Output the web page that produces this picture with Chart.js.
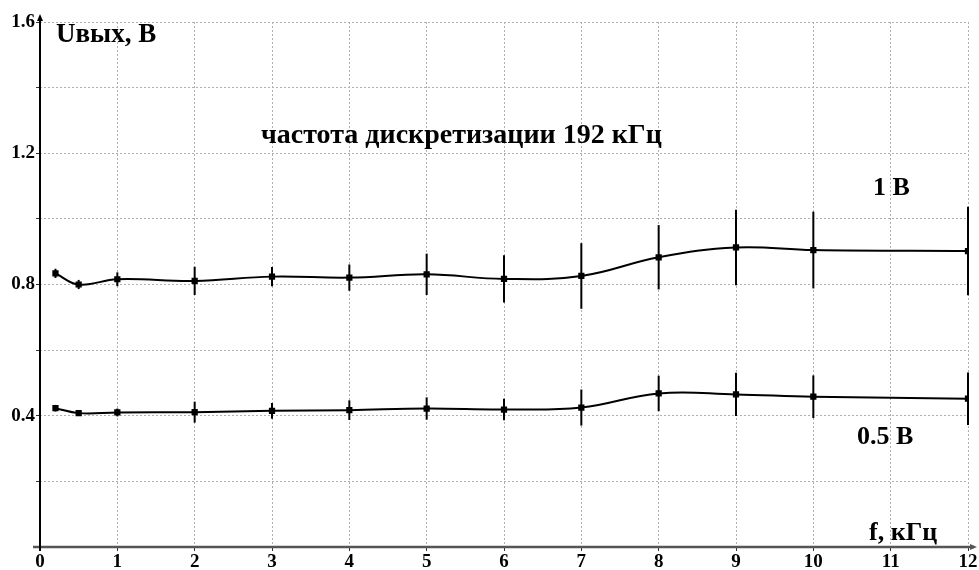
<!DOCTYPE html>
<html>
<head>
<meta charset="utf-8">
<script src="https://cdn.jsdelivr.net/npm/chart.js@4"></script>
<style>
  body { margin: 0; background: #fff; }
  canvas { display: block; }
</style>
</head>
<body>
<canvas id="chart" width="979" height="570"></canvas>
<script>
// Frequencies, kHz (no measurement at 11 kHz)
const freq = [0.2, 0.5, 1, 2, 3, 4, 5, 6, 7, 8, 9, 10, 12];

// Output voltage for 1 V input, and its error
const u1V = [0.834, 0.800, 0.816, 0.811, 0.824, 0.821, 0.831, 0.817, 0.826, 0.883, 0.913, 0.905, 0.902];
const err1V = [0.014, 0.014, 0.021, 0.043, 0.029, 0.040, 0.063, 0.072, 0.100, 0.098, 0.115, 0.117, 0.135];

// Output voltage for 0.5 V input, and its error
const u05V = [0.423, 0.408, 0.410, 0.411, 0.415, 0.417, 0.422, 0.419, 0.425, 0.468, 0.465, 0.458, 0.452];
const err05V = [0.010, 0.008, 0.012, 0.032, 0.024, 0.030, 0.034, 0.033, 0.055, 0.054, 0.066, 0.065, 0.080];

const yLabelTicks = [0.4, 0.8, 1.2, 1.6];

const FONT = '"Liberation Serif", "Times New Roman", serif';

function toPoints(ys) {
    return freq.map((f, i) => ({ x: f, y: ys[i] }));
}

// Vertical error bars drawn on the chart's own scales
const errorBars = {
    id: 'errorBars',
    afterDatasetsDraw(chart) {
        const ctx = chart.ctx;
        const xs = chart.scales.x;
        const ys = chart.scales.y;
        const errs = [err1V, err05V];
        ctx.save();
        ctx.strokeStyle = '#000';
        ctx.lineWidth = 2;
        chart.data.datasets.forEach((ds, d) => {
            ds.data.forEach((p, i) => {
                const px = xs.getPixelForValue(p.x);
                ctx.beginPath();
                ctx.moveTo(px, ys.getPixelForValue(p.y + errs[d][i]));
                ctx.lineTo(px, ys.getPixelForValue(p.y - errs[d][i]));
                ctx.stroke();
            });
        });
        ctx.restore();
    }
};

// Axis lines with arrows, and the captions
const axesAndText = {
    id: 'axesAndText',
    afterDraw(chart) {
        const ctx = chart.ctx;
        const xs = chart.scales.x;
        const ys = chart.scales.y;
        const x0 = xs.getPixelForValue(0);
        const y0 = ys.getPixelForValue(0);
        const top = ys.getPixelForValue(1.6);
        const right = xs.getPixelForValue(12);
        ctx.save();

        // x axis
        ctx.strokeStyle = '#555';
        ctx.fillStyle = '#555';
        ctx.lineWidth = 2.5;
        ctx.beginPath();
        ctx.moveTo(x0 - 7, y0);
        ctx.lineTo(right + 6, y0);
        ctx.stroke();
        ctx.beginPath();
        ctx.moveTo(right + 9, y0);
        ctx.lineTo(right + 2, y0 - 3);
        ctx.lineTo(right + 2, y0 + 3);
        ctx.closePath();
        ctx.fill();

        // y axis
        ctx.strokeStyle = '#000';
        ctx.fillStyle = '#000';
        ctx.lineWidth = 2;
        ctx.beginPath();
        ctx.moveTo(x0, y0 + 4);
        ctx.lineTo(x0, top - 5);
        ctx.stroke();
        ctx.beginPath();
        ctx.moveTo(x0, top - 8);
        ctx.lineTo(x0 - 3, top - 1);
        ctx.lineTo(x0 + 3, top - 1);
        ctx.closePath();
        ctx.fill();

        // captions
        ctx.fillStyle = '#000';
        ctx.textBaseline = 'middle';
        ctx.textAlign = 'left';
        ctx.font = 'bold 27px ' + FONT;
        ctx.fillText('Uвых, В', 56, 35);
        ctx.font = 'bold 28px ' + FONT;
        ctx.fillText('частота дискретизации 192 кГц', 261, 136);
        ctx.font = 'bold 26px ' + FONT;
        ctx.fillText('1 В', 873, 188);
        ctx.fillText('0.5 В', 857, 437);
        ctx.fillText('f, кГц', 869, 533);
        ctx.restore();
    }
};

const ctx = document.getElementById('chart').getContext('2d');

new Chart(ctx, {
    type: 'line',
    data: {
        datasets: [
            {
                label: '1 В',
                data: toPoints(u1V),
                borderColor: '#000',
                backgroundColor: '#000',
                borderWidth: 2,
                tension: 0.4,
                pointStyle: 'rect',
                pointRadius: 3,
                fill: false
            },
            {
                label: '0.5 В',
                data: toPoints(u05V),
                borderColor: '#000',
                backgroundColor: '#000',
                borderWidth: 2,
                tension: 0.4,
                pointStyle: 'rect',
                pointRadius: 3,
                fill: false
            }
        ]
    },
    options: {
        responsive: false,
        animation: false,
        layout: {
            padding: { top: 22, right: 11, left: 0, bottom: 0 }
        },
        scales: {
            x: {
                type: 'linear',
                min: 0,
                max: 12,
                afterFit: s => { s.height = 23; },
                ticks: {
                    stepSize: 1,
                    color: '#000',
                    padding: 0,
                    maxRotation: 0,
                    font: { family: FONT, size: 19, weight: 'bold' },
                    callback: v => String(v)
                },
                grid: {
                    color: '#b0b0b0',
                    lineWidth: 1,
                    tickLength: 4,
                    tickColor: '#333',
                    tickBorderDash: []
                },
                border: { display: false, dash: [2, 2] }
            },
            y: {
                min: 0,
                max: 1.6,
                afterFit: s => { s.width = 40; },
                ticks: {
                    stepSize: 0.2,
                    color: '#000',
                    padding: 1,
                    font: { family: FONT, size: 19, weight: 'bold' },
                    callback: v => yLabelTicks.some(t => Math.abs(t - v) < 1e-6) ? v.toFixed(1) : ''
                },
                grid: {
                    color: '#b0b0b0',
                    lineWidth: 1,
                    tickLength: 4,
                    tickColor: '#333',
                    tickBorderDash: []
                },
                border: { display: false, dash: [2, 2] }
            }
        },
        plugins: {
            legend: { display: false },
            tooltip: { enabled: false }
        }
    },
    plugins: [errorBars, axesAndText]
});
</script>
</body>
</html>
